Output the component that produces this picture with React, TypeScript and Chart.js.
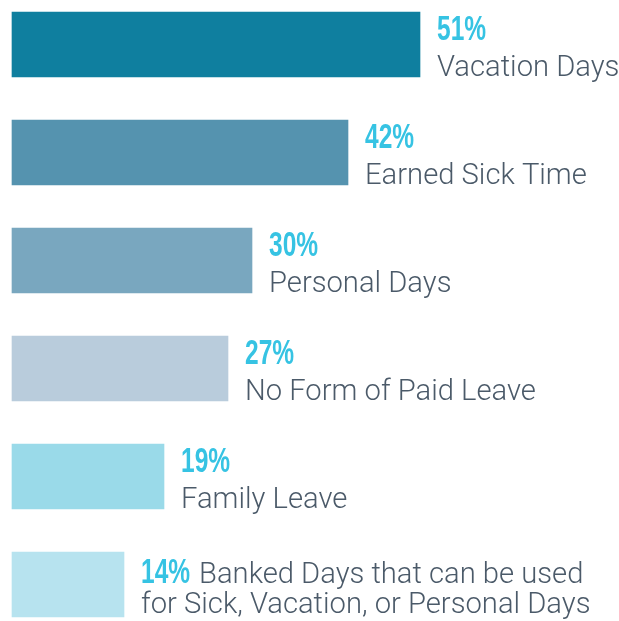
import React, { useEffect, useRef } from "react";
import { Chart, registerables } from "chart.js";

Chart.register(...registerables);

const categories = [
  "Vacation Days",
  "Earned Sick Time",
  "Personal Days",
  "No Form of Paid Leave",
  "Family Leave",
  "Banked Days that can be used for Sick, Vacation, or Personal Days",
];
const values = [51, 42, 30, 27, 19, 14];
const barColors = ["#0f7f9f", "#5593af", "#79a7bf", "#b9ccdc", "#9adae9", "#b7e3ef"];
const pctColor = "#36c3e3";
const textColor = "#4b5a69";

const labelPlugin = {
  id: "barLabels",
  afterDatasetsDraw(chart: any) {
    const ctx = chart.ctx;
    const meta = chart.getDatasetMeta(0);
    meta.data.forEach((bar: any, i: number) => {
      const x = bar.x + 17;
      const top = bar.y - 32.5;
      const pct = values[i] + "%";
      ctx.save();
      ctx.textBaseline = "alphabetic";
      ctx.textAlign = "left";
      const isLast = i === values.length - 1;
      const pctBase = isLast ? top + 31 : top + 28;
      ctx.font = "bold 35px 'Liberation Sans', Arial, sans-serif";
      ctx.fillStyle = pctColor;
      const sx = 0.7;
      ctx.save();
      ctx.translate(x, pctBase);
      ctx.scale(sx, 1);
      ctx.fillText(pct, 0, 0);
      const pw = ctx.measureText(pct).width * sx;
      ctx.restore();
      ctx.font = "300 29.2px Roboto, 'Liberation Sans', sans-serif";
      ctx.fillStyle = textColor;
      if (!isLast) {
        ctx.fillText(categories[i], x, top + 64);
      } else {
        ctx.fillText("Banked Days that can be used", x + pw + 9, pctBase);
        ctx.fillText("for Sick, Vacation, or Personal Days", x, pctBase + 30);
      }
      ctx.restore();
    });
  },
};

export default function App() {
  const ref = useRef<HTMLCanvasElement | null>(null);
  useEffect(() => {
    if (!ref.current) return;
    const chart = new Chart(ref.current, {
      type: "bar",
      data: {
        labels: categories,
        datasets: [
          {
            data: values,
            backgroundColor: barColors,
            barThickness: 65,
            borderWidth: 0,
            clip: false as any,
          },
        ],
      },
      options: {
        indexAxis: "y",
        animation: false,
        responsive: false,
        maintainAspectRatio: false,
        layout: { padding: { left: 12, right: 7, top: 44.5, bottom: 36.5 } },
        plugins: { legend: { display: false }, tooltip: { enabled: false } },
        scales: {
          x: { display: false, min: 0, max: 75 },
          y: { display: false, offset: false },
        },
      },
      plugins: [labelPlugin],
    });
    return () => chart.destroy();
  }, []);
  return (
    <div style={{ position: "absolute", left: 0, top: 0, width: 619, height: 621, background: "#fff" }}>
      <canvas ref={ref} width={619} height={621} style={{ display: "block" }} />
    </div>
  );
}
